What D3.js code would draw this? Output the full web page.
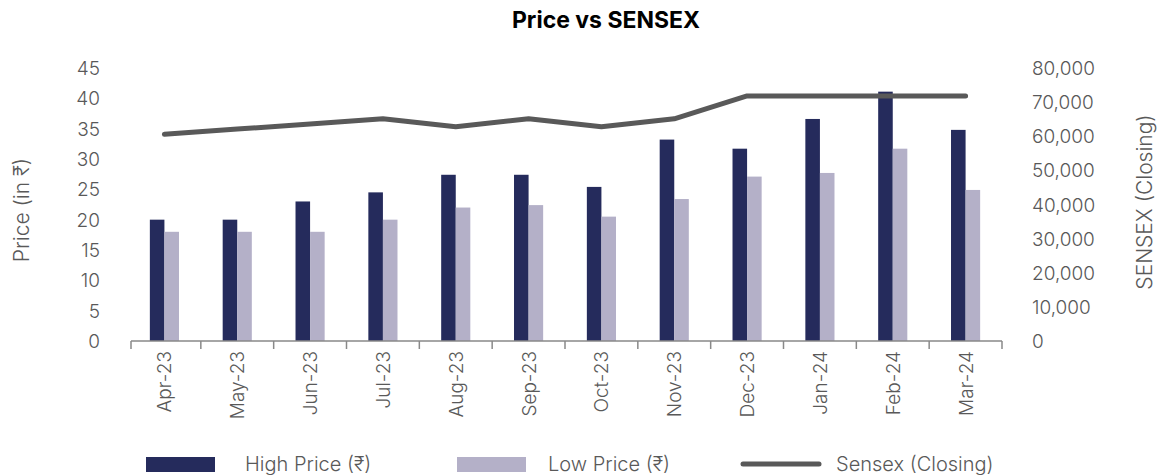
<!DOCTYPE html>
<html>
<head>
<meta charset="utf-8">
<script src="https://cdn.jsdelivr.net/npm/d3@7"></script>
<style>
  body { margin: 0; background: #fff; }
  text { font-family: Inter, "Noto Sans", sans-serif; }
</style>
</head>
<body>
<div class="chart"></div>
<script>
var months = ["Apr-23", "May-23", "Jun-23", "Jul-23", "Aug-23", "Sep-23",
  "Oct-23", "Nov-23", "Dec-23", "Jan-24", "Feb-24", "Mar-24"]
var highPrice = [20, 20, 23, 24.5, 27.4, 27.4, 25.4, 33.2, 31.7, 36.6, 41.1, 34.8]
var lowPrice = [18, 18, 18, 20, 22, 22.4, 20.5, 23.4, 27.1, 27.7, 31.7, 24.9]
var sensex = [60600, 62100, 63600, 65100, 62800, 65100, 62800, 65100, 71800, 71800, 71800, 71800]
var priceTicks = [0, 5, 10, 15, 20, 25, 30, 35, 40, 45]
var sensexTicks = [0, 10000, 20000, 30000, 40000, 50000, 60000, 70000, 80000]

var width = 1161,
  height = 475,
  darkColor = "#252b5c",
  lightColor = "#b4b0c8",
  lineColor = "#595959",
  textColor = "#595959",
  fs = "19px"

var svg = d3.select(".chart").append("svg")
  .attr("width", width)
  .attr("height", height)

var x = d3.scaleBand()
  .domain(months)
  .range([128, 1002])

var yLeft = d3.scaleLinear()
  .domain([0, 45])
  .range([341, 68])

var yRight = d3.scaleLinear()
  .domain([0, 80000])
  .range([341, 68])

var barW = x.bandwidth() * 0.2

// title
svg.append("text")
  .attr("x", 606)
  .attr("y", 28)
  .attr("text-anchor", "middle")
  .style("font-size", "23px")
  .style("font-weight", "bold")
  .attr("fill", "#000")
  .text("Price vs SENSEX")

// bars
svg.append("g").selectAll("rect")
  .data(highPrice)
  .enter().append("rect")
  .attr("x", function(d, i) { return x(months[i]) + x.bandwidth() / 2 - barW })
  .attr("y", function(d) { return yLeft(d) })
  .attr("width", barW)
  .attr("height", function(d) { return yLeft(0) - yLeft(d) })
  .attr("fill", darkColor)

svg.append("g").selectAll("rect")
  .data(lowPrice)
  .enter().append("rect")
  .attr("x", function(d, i) { return x(months[i]) + x.bandwidth() / 2 })
  .attr("y", function(d) { return yLeft(d) })
  .attr("width", barW)
  .attr("height", function(d) { return yLeft(0) - yLeft(d) })
  .attr("fill", lightColor)

// x axis
var xAxis = svg.append("g")
  .attr("transform", "translate(0,341)")
xAxis.append("line")
  .attr("x1", x.range()[0] + 3).attr("x2", x.range()[1])
  .attr("stroke", "#898989").attr("stroke-width", 1.5)
xAxis.selectAll(".tick")
  .data(months.concat(["end"]))
  .enter().append("line")
  .attr("x1", function(d, i) { return i == 0 ? x.range()[0] + 3 : x.range()[0] + i * x.step() })
  .attr("x2", function(d, i) { return i == 0 ? x.range()[0] + 3 : x.range()[0] + i * x.step() })
  .attr("y1", 0).attr("y2", 8)
  .attr("stroke", "#898989").attr("stroke-width", 1.5)
xAxis.selectAll(".lbl")
  .data(months)
  .enter().append("text")
  .attr("transform", function(d) { return "translate(" + (x(d) + x.bandwidth() / 2 + 7) + ",10) rotate(-90)" })
  .attr("text-anchor", "end")
  .style("font-size", fs)
  .style("font-weight", 300)
  .attr("fill", textColor)
  .text(function(d) { return d })

// left axis labels
svg.append("g").selectAll("text")
  .data(priceTicks)
  .enter().append("text")
  .attr("x", 100)
  .attr("y", function(d) { return yLeft(d) + 7 })
  .attr("text-anchor", "end")
  .style("font-size", fs)
  .style("font-weight", 300)
  .attr("fill", textColor)
  .text(function(d) { return d })

// right axis labels
svg.append("g").selectAll("text")
  .data(sensexTicks)
  .enter().append("text")
  .attr("x", 1032)
  .attr("y", function(d) { return yRight(d) + 7 })
  .style("font-size", fs)
  .style("font-weight", 300)
  .attr("fill", textColor)
  .text(function(d) { return d3.format(",")(d) })

// axis titles
svg.append("text")
  .attr("transform", "translate(29,210) rotate(-90)")
  .attr("text-anchor", "middle")
  .style("font-size", "21px")
  .style("font-weight", 300)
  .attr("fill", textColor)
  .text("Price (in ₹)")

svg.append("text")
  .attr("transform", "translate(1152,202) rotate(-90)")
  .attr("text-anchor", "middle")
  .style("font-size", "21px")
  .style("font-weight", 300)
  .attr("fill", textColor)
  .text("SENSEX (Closing)")

// sensex line
var line = d3.line()
  .x(function(d, i) { return x(months[i]) + x.bandwidth() / 2 })
  .y(function(d) { return yRight(d) })

svg.append("path")
  .datum(sensex)
  .attr("d", line)
  .attr("fill", "none")
  .attr("stroke", lineColor)
  .attr("stroke-width", 5)
  .attr("stroke-linecap", "round")
  .attr("stroke-linejoin", "round")

// legend
var legend = svg.append("g")
legend.append("rect").attr("x", 146).attr("y", 457).attr("width", 69).attr("height", 15).attr("fill", darkColor)
legend.append("text").attr("x", 245).attr("y", 471).text("High Price (₹)")
legend.append("rect").attr("x", 457).attr("y", 457).attr("width", 69).attr("height", 15).attr("fill", lightColor)
legend.append("text").attr("x", 548).attr("y", 471).text("Low Price (₹)")
legend.append("line").attr("x1", 743).attr("x2", 819).attr("y1", 464).attr("y2", 464)
  .attr("stroke", lineColor).attr("stroke-width", 5).attr("stroke-linecap", "round")
legend.append("text").attr("x", 836).attr("y", 471).text("Sensex (Closing)")
legend.selectAll("text")
  .style("font-size", "20px")
  .style("font-weight", 300)
  .attr("fill", textColor)
</script>
</body>
</html>
